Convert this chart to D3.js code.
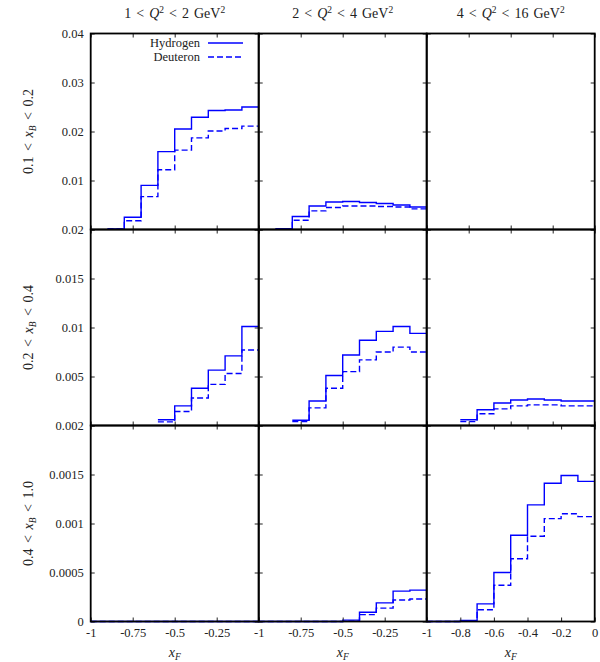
<!DOCTYPE html>
<html><head><meta charset="utf-8">
<script src="https://cdn.jsdelivr.net/npm/d3@7/dist/d3.min.js"></script>
<style>
body{margin:0;background:#fff;}
text{font-family:"Liberation Serif","DejaVu Serif",serif;fill:#222;}
</style></head>
<body><svg id="c" width="600" height="662"></svg>
<script>
// ---------- data ----------
// bins of x_F, left edges (width 0.1)
const binEdges = [-1,-0.9,-0.8,-0.7,-0.6,-0.5,-0.4,-0.3,-0.2,-0.1,0];
const colTitles = [["1","2"],["2","4"],["4","16"]];
const rowTitles = [["0.1","0.2"],["0.2","0.4"],["0.4","1.0"]];
const rowYMax = [0.04, 0.02, 0.002];
const rowYTicks = [[0,0.01,0.02,0.03,0.04],[0,0.005,0.01,0.015,0.02],[0,0.0005,0.001,0.0015,0.002]];
const rowYLabels = [["","0.01","0.02","0.03","0.04"],["","0.005","0.01","0.015","0.02"],["0","0.0005","0.001","0.0015","0.002"]];
const xTicksQuarter = [-1,-0.75,-0.5,-0.25,0];
const xLabelsQuarter = ["-1","-0.75","-0.5","-0.25",""];
const xTicksFifth = [-1,-0.8,-0.6,-0.4,-0.2,0];
const xLabelsFifth = ["-1","-0.8","-0.6","-0.4","-0.2","0"];
const legendLabels = ["Hydrogen","Deuteron"];

// Hydrogen / Deuteron per panel (row, col), 10 bins from -1 to 0; null = not drawn
const hyd_1_1 = [null,0.0001,0.0025,0.0090,0.0159,0.0205,0.0229,0.0243,0.0244,0.0250];
const deu_1_1 = [null,0.0001,0.0018,0.0067,0.0122,0.0162,0.0187,0.0201,0.0206,0.0211];
const hyd_1_2 = [null,0.00014,0.00265,0.0048,0.0056,0.0057,0.0055,0.0053,0.0050,0.0046];
const deu_1_2 = [null,0.0001,0.0019,0.0038,0.0045,0.0048,0.0048,0.0047,0.0046,0.0042];
const hyd_1_3 = [null,null,null,null,null,null,null,null,null,null];
const deu_1_3 = [null,null,null,null,null,null,null,null,null,null];
const hyd_2_1 = [null,null,null,null,0.00058,0.0020,0.0038,0.00565,0.0071,0.0101];
const deu_2_1 = [null,null,null,null,0.00037,0.00143,0.0028,0.0042,0.0053,0.0077];
const hyd_2_2 = [null,null,0.00054,0.0025,0.0051,0.0072,0.0087,0.0096,0.0101,0.0094];
const deu_2_2 = [null,null,0.0004,0.0018,0.0038,0.0055,0.0067,0.0075,0.0080,0.0075];
const hyd_2_3 = [null,null,0.00058,0.0016,0.0023,0.0026,0.0027,0.0026,0.0025,0.0025];
const deu_2_3 = [null,null,0.0004,0.0012,0.0017,0.0020,0.0021,0.0021,0.0020,0.0020];
const hyd_3_1 = [0,0,0,0,0,0,0,0,0,0];
const deu_3_1 = [0,0,0,0,0,0,0,0,0,0];
const hyd_3_2 = [0,0,0,0,0,0.000014,0.000095,0.00019,0.00031,0.00032];
const deu_3_2 = [0,0,0,0,0,0.000003,0.00007,0.000136,0.00022,0.00023];
const hyd_3_3 = [0,0,0.00001,0.00018,0.0005,0.00088,0.00119,0.00141,0.00149,0.00143];
const deu_3_3 = [0,0,0.000003,0.00012,0.00037,0.00064,0.00087,0.00105,0.0011,0.00107];

const hydrogen = [[hyd_1_1,hyd_1_2,hyd_1_3],[hyd_2_1,hyd_2_2,hyd_2_3],[hyd_3_1,hyd_3_2,hyd_3_3]];
const deuteron = [[deu_1_1,deu_1_2,deu_1_3],[deu_2_1,deu_2_2,deu_2_3],[deu_3_1,deu_3_2,deu_3_3]];

// ---------- layout ----------
const X0 = 90.7, PW = 168, Y0 = 33.5, PH = 196;
const blue = "#0000ff";
const svg = d3.select("#c");
const FS = 12.5;

function stepPoints(vals){
  const pts = [];
  vals.forEach((v,i)=>{ if(v!==null) pts.push([binEdges[i], v]); });
  if(pts.length){
    const lastIdx = vals.map((v,i)=>v!==null?i:-1).filter(i=>i>=0).pop();
    pts.push([binEdges[lastIdx+1], vals[lastIdx]]);
  }
  return pts;
}

for(let r=0;r<3;r++){
  for(let c=0;c<3;c++){
    const px = X0 + c*PW, py = Y0 + r*PH;
    const x = d3.scaleLinear().domain([-1,0]).range([px, px+PW]);
    const y = d3.scaleLinear().domain([0,rowYMax[r]]).range([py+PH, py]);
    const g = svg.append("g");
    const line = d3.line().x(d=>x(d[0])).y(d=>y(d[1])).curve(d3.curveStepAfter);
    [[hydrogen[r][c],null],[deuteron[r][c],"6,3"]].forEach(([vals,dash])=>{
      const pts = stepPoints(vals);
      if(pts.length) g.append("path").attr("d",line(pts)).attr("fill","none")
        .attr("stroke",blue).attr("stroke-width",1.4).attr("stroke-dasharray",dash);
    });
    const xt = (c===2 && r===2) ? xTicksFifth : xTicksQuarter;
    const xl = (c===2 && r===2) ? xLabelsFifth : xLabelsQuarter;
    const axB = d3.axisBottom(x).tickValues(xt).tickSize(-4).tickPadding(7)
      .tickFormat((d,i)=> r===2 ? xl[i] : "");
    const axT = d3.axisTop(x).tickValues(xt).tickSize(-4).tickFormat("");
    const axL = d3.axisLeft(y).tickValues(rowYTicks[r]).tickSize(-4).tickPadding(7)
      .tickFormat((d,i)=> c===0 ? rowYLabels[r][i] : "");
    const axR = d3.axisRight(y).tickValues(rowYTicks[r]).tickSize(-4).tickFormat("");
    [[axB,`translate(0,${py+PH})`],[axT,`translate(0,${py})`],[axL,`translate(${px},0)`],[axR,`translate(${px+PW},0)`]].forEach(([ax,tr])=>{
      const a = g.append("g").attr("transform",tr).call(ax);
      a.select(".domain").remove();
      a.selectAll("line").attr("stroke","#222").attr("stroke-width",1);
      a.selectAll("text").attr("font-family","Liberation Serif").attr("font-size",FS).attr("fill","#222");
    });
    g.append("rect").attr("x",px).attr("y",py).attr("width",PW).attr("height",PH)
      .attr("fill","none").attr("stroke","#000").attr("stroke-width",1.8);
  }
}

// column titles
colTitles.forEach((t,c)=>{
  const tx = svg.append("text").attr("x",X0+c*PW+PW/2).attr("y",18).attr("text-anchor","middle")
    .attr("font-size",14).attr("word-spacing","1.5px");
  tx.append("tspan").text(t[0]+" < ");
  tx.append("tspan").attr("font-style","italic").text("Q");
  tx.append("tspan").attr("font-size",9.5).attr("dy",-5.5).text("2");
  tx.append("tspan").attr("dy",5.5).text(" < "+t[1]+" GeV");
  tx.append("tspan").attr("font-size",9.5).attr("dy",-5.5).text("2");
});

// row titles
rowTitles.forEach((t,r)=>{
  const cy = Y0 + r*PH + PH/2;
  const tx = svg.append("text").attr("transform",`translate(33,${cy}) rotate(-90)`)
    .attr("text-anchor","middle").attr("font-size",14).attr("word-spacing","2px");
  tx.append("tspan").text(t[0]+" < ");
  tx.append("tspan").attr("font-style","italic").text("x");
  tx.append("tspan").attr("font-style","italic").attr("font-size",9.5).attr("dy",3).text("B");
  tx.append("tspan").attr("dy",-3).text(" < "+t[1]);
});

// x axis titles
for(let c=0;c<3;c++){
  const tx = svg.append("text").attr("x",X0+c*PW+PW/2).attr("y",657).attr("text-anchor","middle").attr("font-size",14);
  tx.append("tspan").attr("font-style","italic").text("x");
  tx.append("tspan").attr("font-style","italic").attr("font-size",9.5).attr("dy",3).text("F");
}

// legend
const legY = [43, 57];
legendLabels.forEach((lab,i)=>{
  svg.append("text").attr("x",200).attr("y",legY[i]+4).attr("text-anchor","end").attr("font-size",12.5).text(lab);
  svg.append("line").attr("x1",208).attr("x2",243).attr("y1",legY[i]).attr("y2",legY[i])
    .attr("stroke",blue).attr("stroke-width",1.4).attr("stroke-dasharray", i===1?"6,3":null);
});
</script></body></html>
